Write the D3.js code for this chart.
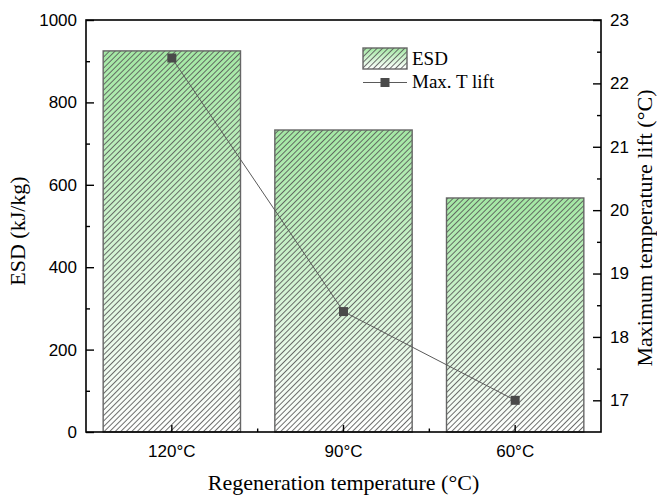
<!DOCTYPE html>
<html>
<head>
<meta charset="utf-8">
<script src="https://cdn.jsdelivr.net/npm/d3@7/dist/d3.min.js"></script>
<style>
html,body{margin:0;padding:0;background:#fff;}
svg{display:block;}
</style>
</head>
<body>
<svg id="chart" width="657" height="495"></svg>
<script>
const categories = ["120°C", "90°C", "60°C"];
const esdValues = [925, 733, 568];
const tliftValues = [22.4, 18.4, 17.0];
const leftTicks = [0, 200, 400, 600, 800, 1000];
const rightTicks = [17, 18, 19, 20, 21, 22, 23];

const W = 657, H = 495;
const m = {left: 86, top: 20, right: 601, bottom: 432};
const svg = d3.select("#chart");

const x = d3.scaleBand().domain(categories).range([m.left, m.right]).paddingInner(0.2).paddingOuter(0.1);
const yL = d3.scaleLinear().domain([0, 1000]).range([m.bottom, m.top]);
const yR = d3.scaleLinear().domain([16.5, 23]).range([m.bottom, m.top]);

const defs = svg.append("defs");
const grad = defs.append("linearGradient").attr("id", "grad").attr("x1", 0).attr("y1", 0).attr("x2", 0).attr("y2", 1);
grad.append("stop").attr("offset", "0%").attr("stop-color", "#a4e8a4");
grad.append("stop").attr("offset", "100%").attr("stop-color", "#ffffff");
const pat = defs.append("pattern").attr("id", "hatch").attr("patternUnits", "userSpaceOnUse")
  .attr("width", 3.9).attr("height", 3.9).attr("patternTransform", "rotate(45)");
pat.append("line").attr("x1", 0.5).attr("y1", 0).attr("x2", 0.5).attr("y2", 3.9)
  .attr("stroke", "#555").attr("stroke-width", 0.85);

// bars
const bars = svg.append("g");
categories.forEach((c, i) => {
  const bx = x(c), by = yL(esdValues[i]), bw = x.bandwidth(), bh = yL(0) - yL(esdValues[i]);
  bars.append("rect").attr("x", bx).attr("y", by).attr("width", bw).attr("height", bh).attr("fill", "url(#grad)");
  bars.append("rect").attr("x", bx).attr("y", by).attr("width", bw).attr("height", bh).attr("fill", "url(#hatch)");
  bars.append("rect").attr("x", bx).attr("y", by).attr("width", bw).attr("height", bh)
    .attr("fill", "none").attr("stroke", "#666").attr("stroke-width", 1.4);
});

// line
const cx = c => x(c) + x.bandwidth() / 2;
const line = d3.line().x((d, i) => cx(categories[i])).y(d => yR(d));
svg.append("path").datum(tliftValues).attr("d", line).attr("fill", "none").attr("stroke", "#5a5a5a").attr("stroke-width", 1);
svg.append("g").selectAll("rect").data(tliftValues).join("rect")
  .attr("x", (d, i) => cx(categories[i]) - 4.5).attr("y", d => yR(d) - 4.5)
  .attr("width", 9).attr("height", 9).attr("fill", "#4a4a4a");

// axes
const tickFont = "'Liberation Sans', Arial, sans-serif";
const titleFont = "'Liberation Serif', 'Times New Roman', serif";

function styleAxis(g) {
  g.select(".domain").remove();
  g.selectAll(".tick line").attr("stroke", "#000").attr("stroke-width", 1.4);
  g.selectAll(".tick text").attr("font-family", tickFont).attr("font-size", 17).attr("fill", "#000");
}

const gL = svg.append("g").attr("transform", `translate(${m.left},0)`)
  .call(d3.axisLeft(yL).tickValues(leftTicks).tickFormat(d3.format("d")).tickSizeInner(-8).tickSizeOuter(0).tickPadding(9));
styleAxis(gL);
const gLm = svg.append("g").attr("transform", `translate(${m.left},0)`)
  .call(d3.axisLeft(yL).tickValues(d3.range(100, 1000, 200)).tickSizeInner(-4).tickSizeOuter(0).tickFormat(""));
styleAxis(gLm);

const gR = svg.append("g").attr("transform", `translate(${m.right},0)`)
  .call(d3.axisRight(yR).tickValues(rightTicks).tickFormat(d3.format("d")).tickSizeInner(-8).tickSizeOuter(0).tickPadding(9));
styleAxis(gR);
const gRm = svg.append("g").attr("transform", `translate(${m.right},0)`)
  .call(d3.axisRight(yR).tickValues([17.5, 18.5, 19.5, 20.5, 21.5, 22.5]).tickSizeInner(-4).tickSizeOuter(0).tickFormat(""));
styleAxis(gRm);

const gB = svg.append("g").attr("transform", `translate(0,${m.bottom})`)
  .call(d3.axisBottom(x).tickSizeInner(-7).tickSizeOuter(0).tickPadding(13));
styleAxis(gB);
// minor ticks between categories
const bounds = categories.slice(1).map(c => x(c) - x.step() * x.paddingInner() / 2);
svg.append("g").selectAll("line").data(bounds).join("line")
  .attr("x1", d => d).attr("x2", d => d).attr("y1", m.bottom).attr("y2", m.bottom - 3.5)
  .attr("stroke", "#000").attr("stroke-width", 1.4);

// frame
svg.append("rect").attr("x", m.left).attr("y", m.top).attr("width", m.right - m.left).attr("height", m.bottom - m.top)
  .attr("fill", "none").attr("stroke", "#000").attr("stroke-width", 1.6);

// titles
svg.append("text").attr("x", (m.left + m.right) / 2).attr("y", 490).attr("text-anchor", "middle")
  .attr("font-family", titleFont).attr("font-size", 22).text("Regeneration temperature (°C)");
svg.append("text").attr("transform", `translate(25,231) rotate(-90)`).attr("text-anchor", "middle")
  .attr("font-family", titleFont).attr("font-size", 22).text("ESD (kJ/kg)");
svg.append("text").attr("transform", `translate(652,228) rotate(-90)`).attr("text-anchor", "middle")
  .attr("font-family", titleFont).attr("font-size", 22).text("Maximum temperature lift (°C)");

// legend
const lg = svg.append("g");
lg.append("rect").attr("x", 363).attr("y", 48).attr("width", 44).attr("height", 21).attr("fill", "url(#grad)");
lg.append("rect").attr("x", 363).attr("y", 48).attr("width", 44).attr("height", 21).attr("fill", "url(#hatch)");
lg.append("rect").attr("x", 363).attr("y", 48).attr("width", 44).attr("height", 21).attr("fill", "none").attr("stroke", "#666").attr("stroke-width", 1.4);
lg.append("text").attr("x", 412).attr("y", 65).attr("font-family", titleFont).attr("font-size", 19).text("ESD");
lg.append("line").attr("x1", 363).attr("x2", 407).attr("y1", 82.5).attr("y2", 82.5).attr("stroke", "#5a5a5a").attr("stroke-width", 1);
lg.append("rect").attr("x", 385 - 4.5).attr("y", 82.5 - 4.5).attr("width", 9).attr("height", 9).attr("fill", "#4a4a4a");
lg.append("text").attr("x", 412).attr("y", 88).attr("font-family", titleFont).attr("font-size", 19).text("Max. T lift");
</script>
</body>
</html>
